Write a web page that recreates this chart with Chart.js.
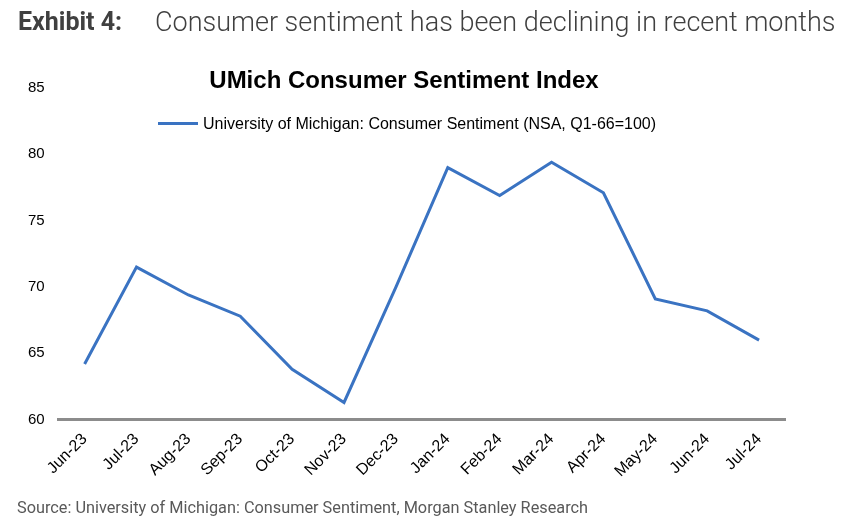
<!DOCTYPE html>
<html>
<head>
<meta charset="utf-8">
<script src="https://cdn.jsdelivr.net/npm/chart.js@4"></script>
<style>
  body { margin: 0; background: #fff; }
  #wrap { position: relative; width: 844px; height: 532px; overflow: hidden; }
  #chart { position: absolute; left: 0; top: 0; }
  .header { position: absolute; left: 18px; top: 7px; font-family: Roboto, sans-serif; color: #404040; white-space: nowrap; }
  .header b { font-size: 25px; font-weight: 700; }
  .header span { font-size: 27px; font-weight: 300; position: absolute; left: 137px; top: -1px; }
  .title { position: absolute; left: 0; width: 808px; top: 66px; text-align: center; font-family: "Liberation Sans", Arial, sans-serif; font-weight: bold; font-size: 24px; color: #000; }
  .legend { position: absolute; left: 158px; top: 115px; font-family: "Liberation Sans", Arial, sans-serif; font-size: 16px; color: #000; white-space: nowrap; }
  .legend i { display: inline-block; width: 40px; height: 3px; background: #3a73c2; vertical-align: middle; margin-right: 5px; position: relative; top: -1px; }
  .source { position: absolute; left: 17px; top: 498px; font-family: Roboto, sans-serif; font-size: 16.3px; color: #595959; }
</style>
</head>
<body>
<div id="wrap">
  <canvas id="chart" width="844" height="532"></canvas>
  <div class="header"><b>Exhibit 4:</b><span>Consumer sentiment has been declining in recent months</span></div>
  <div class="title">UMich Consumer Sentiment Index</div>
  <div class="legend"><i></i>University of Michigan: Consumer Sentiment (NSA, Q1-66=100)</div>
  <div class="source">Source: University of Michigan: Consumer Sentiment, Morgan Stanley Research</div>
</div>
<script>
// данные
const months = ['Jun-23', 'Jul-23', 'Aug-23', 'Sep-23', 'Oct-23', 'Nov-23', 'Dec-23',
                'Jan-24', 'Feb-24', 'Mar-24', 'Apr-24', 'May-24', 'Jun-24', 'Jul-24'];
const sentiment = [64.2, 71.5, 69.4, 67.8, 63.8, 61.3, 70.0, 79.0, 76.9, 79.4, 77.1, 69.1, 68.2, 66.0];
const yTicks = [60, 65, 70, 75, 80, 85];

const ctx = document.getElementById('chart').getContext('2d');
const chart = new Chart(ctx, {
    type: 'line',
    data: {
        labels: months,
        datasets: [{
            label: 'University of Michigan: Consumer Sentiment (NSA, Q1-66=100)',
            data: sentiment,
            borderColor: '#3a73c2',
            borderWidth: 3,
            pointRadius: 0,
            tension: 0
        }]
    },
    options: {
        responsive: false,
        animation: false,
        layout: { padding: { top: 88, left: 14, right: 59, bottom: 41 } },
        plugins: {
            legend: { display: false },
            title: { display: false },
            tooltip: { enabled: false }
        },
        scales: {
            x: {
                offset: true,
                grid: { display: false, drawTicks: false },
                border: { display: true, color: '#8c8c8c', width: 3 },
                ticks: {
                    color: '#000',
                    font: { family: 'Liberation Sans, Arial', size: 16 },
                    maxRotation: 45,
                    minRotation: 45,
                    padding: 10
                }
            },
            y: {
                min: 60,
                max: 85,
                afterBuildTicks: function(axis) {
                    axis.ticks = yTicks.map(v => ({ value: v }));
                },
                grid: { display: false, drawTicks: false },
                border: { display: false },
                ticks: {
                    color: '#000',
                    font: { family: 'Liberation Sans, Arial', size: 15 },
                    padding: 14
                }
            }
        }
    }
});
</script>
</body>
</html>
